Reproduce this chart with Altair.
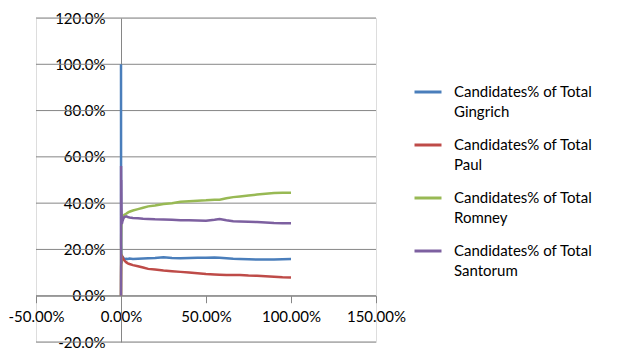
import altair as alt
import pandas as pd

# x positions (% of precincts reporting) and candidate shares (%)
x_pct = [0, 0.05, 0.1, 0.2, 0.3, 0.5, 0.8, 1, 1.5, 2, 3, 4, 5, 7, 10, 13, 16, 20, 25, 30,
         35, 40, 45, 50, 55, 58, 62, 66, 70, 75, 80, 85, 90, 95, 100]
gingrich = [100, 40, 22, 19, 14, 16, 17, 16.8, 16.2, 15.8, 16.0, 15.9, 16.1, 15.9, 16.0, 16.1, 16.2, 16.3, 16.6, 16.3,
            16.2, 16.3, 16.4, 16.4, 16.5, 16.4, 16.2, 16.0, 15.9, 15.8, 15.6, 15.6, 15.7, 15.8, 15.9]
paul = [0, 8, 12, 16, 17, 17.2, 16.8, 16.5, 15.8, 15.2, 14.5, 14.0, 13.7, 13.2, 12.7, 12.2, 11.6, 11.3, 10.9, 10.6,
        10.3, 10.0, 9.7, 9.4, 9.2, 9.1, 9.0, 8.9, 8.9, 8.7, 8.6, 8.4, 8.2, 8.0, 7.9]
romney = [0, 10, 25, 30, 33, 33.5, 33.8, 34.2, 34.6, 35.0, 35.4, 35.9, 36.3, 36.8, 37.4, 38.0, 38.6, 39.0, 39.6, 40.0,
          40.6, 40.8, 41.0, 41.2, 41.5, 41.5, 42.1, 42.6, 42.9, 43.3, 43.7, 44.1, 44.4, 44.5, 44.5]
santorum = [0, 56, 45, 50, 38, 31, 32, 32.5, 33.5, 34.0, 34.3, 34.0, 33.8, 33.6, 33.5, 33.3, 33.2, 33.0, 32.9, 32.8,
            32.6, 32.6, 32.5, 32.4, 32.8, 33.1, 32.6, 32.2, 32.1, 32.0, 31.8, 31.6, 31.4, 31.3, 31.3]

candidates = ["Gingrich", "Paul", "Romney", "Santorum"]
colors = ["#4A7EBB", "#BE4B48", "#98B954", "#7D60A0"]
y_ticks = [-20, 0, 20, 40, 60, 80, 100, 120]
x_ticks = [-50, 0, 50, 100, 150]

series_names = ["Candidates% of Total " + c for c in candidates]
rows = []
for name, vals in zip(series_names, [gingrich, paul, romney, santorum]):
    for i, (xv, yv) in enumerate(zip(x_pct, vals)):
        rows.append({"series": name, "x": xv / 100, "y": yv / 100, "order": i})
df = pd.DataFrame(rows)
grid_df = pd.DataFrame({"y": [t / 100 for t in y_ticks]})

W, H = 340, 324
FONT = "Lato"
AX = "#868686"

xscale = alt.Scale(domain=[-0.5, 1.5], nice=False, zero=False)
yscale = alt.Scale(domain=[-0.2, 1.2], nice=False, zero=False)

y_axis = alt.Axis(
    values=[t / 100 for t in y_ticks],
    labelExpr="datum.value < 0 ? '-' + format(-datum.value, '.1%') : format(datum.value, '.1%')",
    offset=-W * 50 / 200, grid=False, ticks=False, domainColor=AX, domainWidth=1,
    labelPadding=16, labelFont=FONT, labelFontSize=15, labelColor="#000000",
    labelOverlap=False, labelFlush=False, title=None, zindex=0,
)
x_axis = alt.Axis(
    values=[t / 100 for t in x_ticks],
    labelExpr="datum.value < 0 ? '-' + format(-datum.value, '.2%') : format(datum.value, '.2%')",
    offset=-H * 20 / 140, grid=False, tickSize=7, tickColor=AX, domainColor=AX, domainWidth=1,
    labelPadding=7, labelFont=FONT, labelFontSize=15, labelColor="#000000",
    labelOverlap=False, labelFlush=False, title=None, zindex=0,
)

Y = alt.Y("y:Q", scale=yscale, axis=y_axis)

grid = alt.Chart(grid_df).mark_rule(color=AX, strokeWidth=1).encode(y=Y)

lines = alt.Chart(df).mark_line(strokeWidth=2.5).encode(
    x=alt.X("x:Q", scale=xscale, axis=x_axis),
    y=Y,
    color=alt.Color(
        "series:N",
        scale=alt.Scale(domain=series_names, range=colors),
        legend=alt.Legend(
            title=None, orient="none", legendX=377, legendY=59, padding=0,
            symbolType="stroke", symbolSize=729, symbolStrokeWidth=3,
            labelFont=FONT, labelFontSize=15, labelColor="#000000", labelLimit=260,
            labelOffset=11, rowPadding=10,
            labelExpr="['Candidates% of Total', replace(datum.label, 'Candidates% of Total ', '')]",
        ),
    ),
    order="order:Q",
)

chart = alt.layer(grid, lines).properties(
    width=W, height=H, autosize="none",
    padding={"left": 28, "top": 10, "right": 235, "bottom": 8},
    background="white",
).configure_view(stroke=None).configure(style={"guide-label": {"lineHeight": 20}})

chart.save("out.html", embed_options={"renderer": "svg", "actions": False})
